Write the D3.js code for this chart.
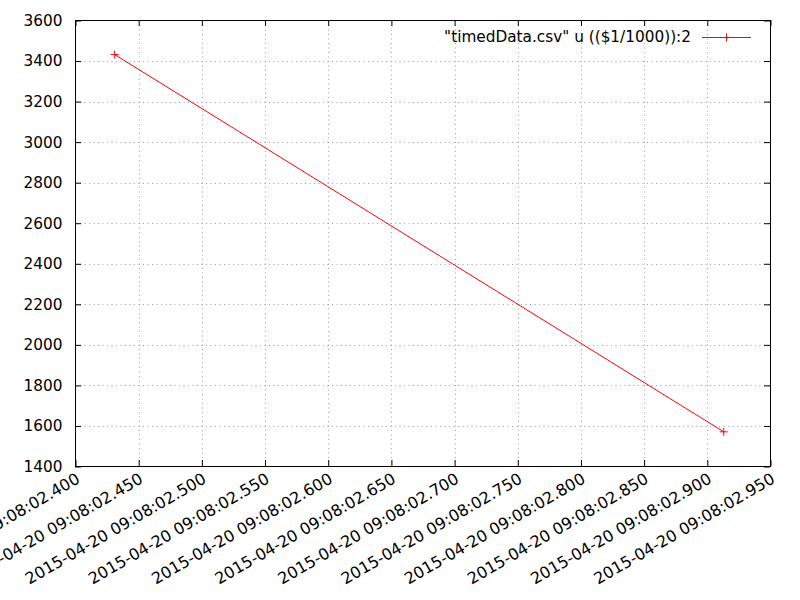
<!DOCTYPE html>
<html>
<head>
<meta charset="utf-8">
<script src="https://cdnjs.cloudflare.com/ajax/libs/d3/7.8.5/d3.min.js"></script>
<style>
body { margin: 0; background: #fff; }
svg text { font-family: "DejaVu Sans", sans-serif; font-size: 15.3px; fill: #000; }
svg text.xl { font-size: 16px; }
</style>
</head>
<body>
<svg width="800" height="600"></svg>
<script>
var svgctrl = d3.select('svg');

// data
var times = ['2015-04-20T09:08:02.431Z', '2015-04-20T09:08:02.913Z'];
var values = [3432, 1571];
var yTicks = [1400, 1600, 1800, 2000, 2200, 2400, 2600, 2800, 3000, 3200, 3400, 3600];
var xTicks = ['2015-04-20T09:08:02.400Z', '2015-04-20T09:08:02.450Z', '2015-04-20T09:08:02.500Z',
    '2015-04-20T09:08:02.550Z', '2015-04-20T09:08:02.600Z', '2015-04-20T09:08:02.650Z',
    '2015-04-20T09:08:02.700Z', '2015-04-20T09:08:02.750Z', '2015-04-20T09:08:02.800Z',
    '2015-04-20T09:08:02.850Z', '2015-04-20T09:08:02.900Z', '2015-04-20T09:08:02.950Z'];
var legendLabel = '"timedData.csv" u (($1/1000)):2';

var pLeft = 75.5, pRight = 770.5, pTop = 20.5, pBottom = 466.5;
var xDates = xTicks.map(function (t) { return new Date(t); });
var pts = times.map(function (t, i) { return { t: new Date(t), v: values[i] }; });

var x = d3.scaleUtc().domain([xDates[0], xDates[xDates.length - 1]]).range([pLeft, pRight]);
var y = d3.scaleLinear().domain([1400, 3600]).range([pBottom, pTop]);
var fmt = d3.utcFormat('%Y-%m-%d %H:%M:%S.%L');

// grid
var grid = svgctrl.append('g');
grid.selectAll('line.gy').data(yTicks.slice(1, -1)).enter().append('line')
    .attr('x1', pLeft).attr('x2', pRight).attr('y1', function (d) { return Math.round(y(d)) + 0.5; })
    .attr('y2', function (d) { return Math.round(y(d)) + 0.5; })
    .attr('stroke', '#a0a0a0').attr('stroke-dasharray', '1,3.5');
grid.selectAll('line.gx').data(xDates.slice(1, -1)).enter().append('line')
    .attr('y1', pTop).attr('y2', pBottom).attr('x1', function (d) { return Math.round(x(d)) + 0.5; })
    .attr('x2', function (d) { return Math.round(x(d)) + 0.5; })
    .attr('stroke', '#a0a0a0').attr('stroke-dasharray', '1,3.5');

// axes with inner ticks, mirrored
var yAxisL = d3.axisLeft(y).tickValues(yTicks).tickSize(-6).tickFormat(d3.format('d'));
var yAxisR = d3.axisRight(y).tickValues(yTicks).tickSize(-6).tickFormat('');
var xAxisB = d3.axisBottom(x).tickValues(xDates).tickSize(-6).tickFormat('');
var xAxisT = d3.axisTop(x).tickValues(xDates).tickSize(-6).tickFormat('');

var gl = svgctrl.append('g').attr('transform', 'translate(' + (pLeft - 0.5) + ',0)').call(yAxisL);
svgctrl.append('g').attr('transform', 'translate(' + (pRight - 0.5) + ',0)').call(yAxisR);
svgctrl.append('g').attr('transform', 'translate(0,' + (pBottom - 0.5) + ')').call(xAxisB);
svgctrl.append('g').attr('transform', 'translate(0,' + (pTop - 0.5) + ')').call(xAxisT);
svgctrl.selectAll('.domain').remove();
svgctrl.selectAll('.tick line').attr('stroke', '#000');
svgctrl.selectAll('g').attr('font-family', null).attr('font-size', null);
gl.selectAll('text').attr('fill', '#000').attr('x', -12.5);

svgctrl.append('rect').attr('x', pLeft).attr('y', pTop).attr('width', pRight - pLeft).attr('height', pBottom - pTop)
    .attr('fill', 'none').attr('stroke', '#000');

// rotated x labels
svgctrl.append('g').selectAll('text').data(xDates).enter().append('text')
    .attr('class', 'xl')
    .attr('text-anchor', 'end')
    .attr('transform', function (d) { return 'translate(' + (x(d) + 5.5) + ',482) rotate(-30)'; })
    .text(function (d) { return fmt(d); });

// series
var line = d3.line().x(function (d) { return x(d.t); }).y(function (d) { return y(d.v); });
svgctrl.append('path').datum(pts).attr('d', line).attr('fill', 'none').attr('stroke', '#ff0000');
svgctrl.selectAll('path.pt').data(pts).enter().append('path')
    .attr('d', function (d) {
        var px = x(d.t), py = y(d.v);
        return 'M' + (px - 4) + ',' + py + 'H' + (px + 4) + 'M' + px + ',' + (py - 4) + 'V' + (py + 4);
    })
    .attr('stroke', '#ff0000');

// legend
svgctrl.append('text').attr('x', 691).attr('y', 42).attr('text-anchor', 'end').text(legendLabel);
svgctrl.append('line').attr('x1', 702).attr('x2', 751).attr('y1', 37.5).attr('y2', 37.5).attr('stroke', '#ff0000');
svgctrl.append('path').attr('d', 'M726.5,33.5V41.5').attr('stroke', '#ff0000');
</script>
</body>
</html>
